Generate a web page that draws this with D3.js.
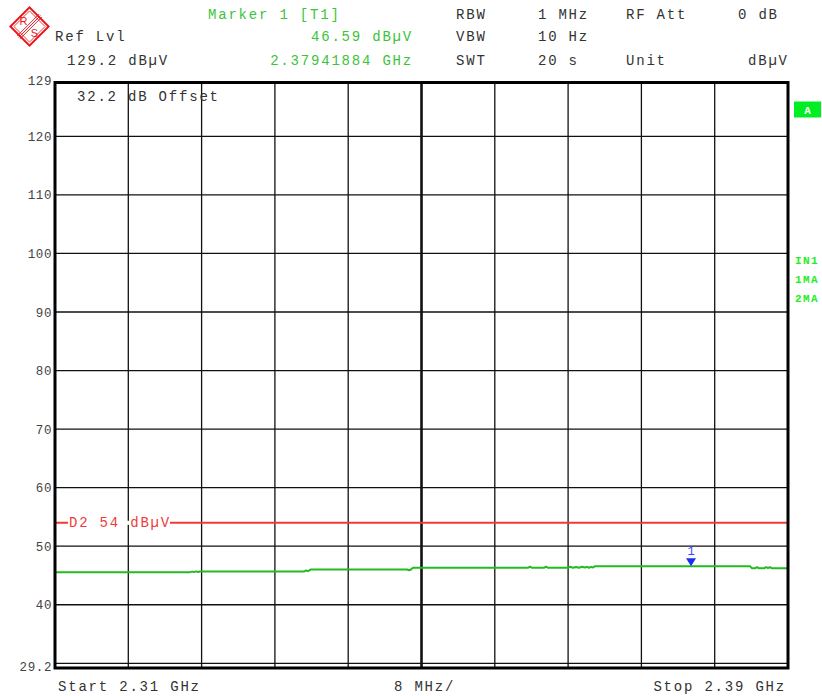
<!DOCTYPE html>
<html>
<head>
<meta charset="utf-8">
<script src="https://cdn.jsdelivr.net/npm/d3@7/dist/d3.min.js"></script>
<style>
  html, body { margin: 0; padding: 0; background: #fff; }
  svg { display: block; }
  .mono { font-family: "Liberation Mono", "DejaVu Sans Mono", monospace; }
</style>
</head>
<body>
<svg id="chart" width="822" height="696"></svg>
<script>
// Sweep settings
const startGHz = 2.31;
const stopGHz = 2.39;
const refLevel = 129.2;
const bottomLevel = 29.2;
const yTickValues = [29.2, 40, 50, 60, 70, 80, 90, 100, 110, 120, 129.2];
const xDivisions = 10;

// Display line D2
const displayLine = 54;

// Marker 1 [T1]
const markerFreq = 2.37941884;
const markerLevel = 46.59;

// Max-hold trace (GHz, dBµV)
const traceFreq = [
  2.31000, 2.32473, 2.32495, 2.32517, 2.32539, 2.32561, 2.32583,
  2.33718, 2.33739, 2.33761, 2.33794,
  2.34842, 2.34864, 2.34885, 2.34907,
  2.36162, 2.36184, 2.36206, 2.36337, 2.36359, 2.36381,
  2.36599, 2.36621, 2.36654, 2.36686, 2.36719, 2.36752, 2.36784, 2.36806, 2.36828, 2.36850, 2.36872, 2.36894,
  2.37941884,
  2.38585, 2.38607, 2.38640, 2.38662, 2.38684, 2.38738, 2.38760, 2.38782, 2.38804, 2.38825,
  2.39000
];
const traceLevel = [
  45.57, 45.57, 45.66, 45.57, 45.70, 45.60, 45.68,
  45.68, 45.86, 45.74, 46.03,
  46.03, 45.90, 46.03, 46.32,
  46.32, 46.50, 46.32, 46.32, 46.50, 46.32,
  46.32, 46.48, 46.32, 46.45, 46.32, 46.48, 46.36, 46.48, 46.32, 46.48, 46.36, 46.59,
  46.59,
  46.59, 46.22, 46.22, 46.42, 46.22, 46.22, 46.42, 46.28, 46.42, 46.22,
  46.22
];

// Header texts
const headerLeft = [
  { t: "Ref Lvl", x: 55, y: 41 },
  { t: "129.2 dBµV", x: 67, y: 65 }
];
const headerGreen = [
  { t: "Marker 1 [T1]", x: 208, y: 18.5, a: "start" },
  { t: "46.59 dBµV", x: 413, y: 41, a: "end" },
  { t: "2.37941884 GHz", x: 413, y: 65, a: "end" }
];
const headerRight = [
  { t: "RBW", x: 456, y: 18.5 }, { t: "1 MHz", x: 538, y: 18.5 },
  { t: "RF Att", x: 626, y: 18.5 }, { t: "0 dB", x: 738, y: 18.5 },
  { t: "VBW", x: 456, y: 41 }, { t: "10 Hz", x: 538, y: 41 },
  { t: "SWT", x: 456, y: 65 }, { t: "20 s", x: 538, y: 65 },
  { t: "Unit", x: 626, y: 65 }, { t: "dBµV", x: 748, y: 65 }
];
const sideLabels = ["IN1", "1MA", "2MA"];

const svg = d3.select("#chart");
svg.append("rect").attr("width", 822).attr("height", 696).attr("fill", "#fff");

const plot = { left: 55, right: 788, top: 82.5, bottom: 668 };

const x = d3.scaleLinear().domain([startGHz, stopGHz]).range([plot.left, plot.right]);
const y = d3.scaleLinear().domain([bottomLevel, refLevel]).range([plot.bottom, plot.top]);

const headFont = { size: "14px", ls: "1.8px" };
const textGrey = "#333";

// ---- R&S logo
const red = "#e8161b";
const logo = svg.append("g").attr("transform", "translate(29.5,26.5)");
logo.append("rect").attr("x", -13.5).attr("y", -13.5).attr("width", 27).attr("height", 27)
  .attr("transform", "rotate(45)").attr("fill", "#fff").attr("stroke", red).attr("stroke-width", 2);
logo.append("rect").attr("x", -11).attr("y", -11).attr("width", 22).attr("height", 22)
  .attr("transform", "rotate(45)").attr("fill", "none").attr("stroke", red).attr("stroke-width", 0.8);
[-2, 0, 2].forEach(o => {
  logo.append("line").attr("x1", -15.5).attr("x2", 15.5).attr("y1", o).attr("y2", o)
    .attr("transform", "rotate(-45)").attr("stroke", red).attr("stroke-width", 0.9);
});
logo.append("text").attr("x", -6).attr("y", -2).attr("text-anchor", "middle")
  .attr("font-family", "Liberation Sans, Arial, sans-serif").attr("font-size", "11px")
  .attr("fill", red).text("R");
logo.append("text").attr("x", 5).attr("y", 10.5).attr("text-anchor", "middle")
  .attr("font-family", "Liberation Sans, Arial, sans-serif").attr("font-size", "11px")
  .attr("fill", red).text("S");

// ---- header
function headerText(d, color, anchor) {
  svg.append("text").attr("class", "mono")
    .attr("x", d.x).attr("y", d.y)
    .attr("text-anchor", anchor || "start")
    .attr("font-size", headFont.size).attr("letter-spacing", headFont.ls)
    .attr("fill", color).text(d.t);
}
headerLeft.forEach(d => headerText(d, textGrey));
headerGreen.forEach(d => headerText(d, "#3ac43a", d.a));
headerRight.forEach(d => headerText(d, textGrey));

// ---- grid
const grid = svg.append("g");
const gridLevels = d3.range(30, 121, 10);
grid.selectAll("line.h").data(gridLevels).join("line")
  .attr("x1", plot.left).attr("x2", plot.right)
  .attr("y1", d => y(d)).attr("y2", d => y(d))
  .attr("stroke", "#111").attr("stroke-width", 1.3);
const xGrid = d3.range(1, xDivisions).map(i => startGHz + i * (stopGHz - startGHz) / xDivisions);
grid.selectAll("line.v").data(xGrid).join("line")
  .attr("x1", d => x(d)).attr("x2", d => x(d))
  .attr("y1", plot.top).attr("y2", plot.bottom)
  .attr("stroke", "#111")
  .attr("stroke-width", (d, i) => i === 4 ? 2.6 : 1.3);

// ---- y axis labels
const yAxis = d3.axisLeft(y).tickValues(yTickValues).tickSize(0).tickPadding(2)
  .tickFormat(d => d === refLevel ? "129" : (d === bottomLevel ? "29.2" : d3.format("d")(d)));
const ya = svg.append("g").attr("transform", `translate(${plot.left - 1},0)`).call(yAxis);
ya.select(".domain").remove();
ya.selectAll("text")
  .attr("class", "mono").attr("font-size", "12.5px").attr("letter-spacing", "0.6px")
  .attr("font-family", "Liberation Mono, monospace")
  .attr("fill", "#444")
  .attr("dy", d => d === refLevel ? "1.5px" : (d === bottomLevel ? "2px" : "4px"));

// ---- display line D2
svg.append("line")
  .attr("x1", plot.left).attr("x2", plot.right)
  .attr("y1", y(displayLine)).attr("y2", y(displayLine))
  .attr("stroke", "#f03a3a").attr("stroke-width", 2);
const d2bg = svg.append("rect").attr("fill", "#fff");
const d2 = svg.append("text").attr("class", "mono")
  .attr("x", 69).attr("y", y(displayLine) + 4.5)
  .attr("font-size", headFont.size).attr("letter-spacing", headFont.ls)
  .attr("fill", "#f03a3a").text(`D2 ${displayLine} dBµV`);
const bb = d2.node().getBBox();
d2bg.attr("x", bb.x - 1).attr("y", y(displayLine) - 2).attr("width", bb.width).attr("height", 4);

// ---- trace
const line = d3.line().x((d, i) => x(traceFreq[i])).y(d => y(d));
svg.append("path").datum(traceLevel)
  .attr("d", line).attr("fill", "none")
  .attr("stroke", "#22bb22").attr("stroke-width", 2).attr("stroke-linejoin", "round");

// ---- marker 1
const mx = x(markerFreq), my = y(markerLevel);
svg.append("path")
  .attr("d", `M${mx - 5},${my - 8} L${mx + 5},${my - 8} L${mx},${my} Z`)
  .attr("fill", "#1a2cf0");
svg.append("text").attr("class", "mono")
  .attr("x", mx).attr("y", my - 11).attr("text-anchor", "middle")
  .attr("font-size", "12px").attr("fill", "#3344ff").text("1");

// ---- frame
svg.append("rect")
  .attr("x", plot.left).attr("y", plot.top)
  .attr("width", plot.right - plot.left).attr("height", plot.bottom - plot.top)
  .attr("fill", "none").attr("stroke", "#000").attr("stroke-width", 3);

// ---- side annotations
svg.append("rect").attr("x", 794).attr("y", 101.5).attr("width", 27).attr("height", 16).attr("fill", "#00ee22");
svg.append("text").attr("class", "mono").attr("x", 807.5).attr("y", 113.5).attr("text-anchor", "middle")
  .attr("font-size", "11px").attr("font-weight", "bold").attr("fill", "#fff").text("A");
svg.selectAll("text.side").data(sideLabels).join("text")
  .attr("class", "mono side")
  .attr("x", 795).attr("y", (d, i) => 264 + i * 19.2)
  .attr("font-size", "11px").attr("font-weight", "bold").attr("letter-spacing", "1.4px")
  .attr("fill", "#22ee22").text(d => d);

// ---- inner and footer texts
function plainText(t, xx, yy, anchor) {
  svg.append("text").attr("class", "mono").attr("x", xx).attr("y", yy)
    .attr("text-anchor", anchor || "start")
    .attr("font-size", headFont.size).attr("letter-spacing", headFont.ls).attr("fill", textGrey)
    .text(t);
}
plainText("32.2 dB Offset", 77, 100.5);
plainText(`Start ${startGHz} GHz`, 58, 691);
plainText(`${Math.round((stopGHz - startGHz) * 1000 / xDivisions)} MHz/`, 394, 691);
plainText(`Stop ${stopGHz} GHz`, 786, 691, "end");
</script>
</body>
</html>
